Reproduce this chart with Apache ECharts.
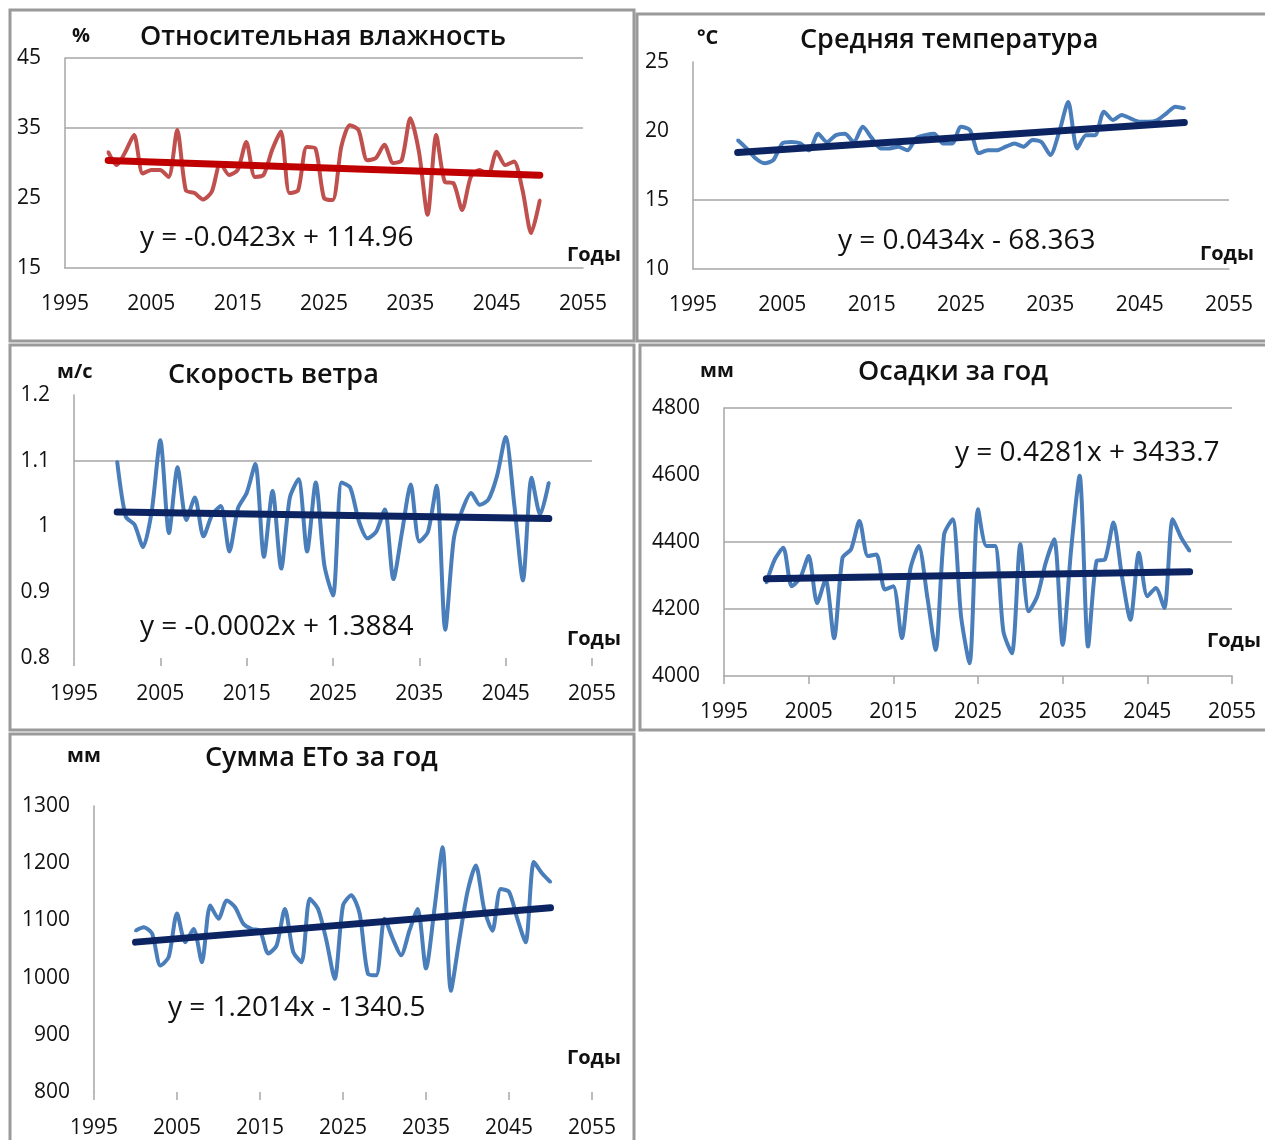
<!DOCTYPE html>
<html><head><meta charset="utf-8">
<script src="https://cdn.jsdelivr.net/npm/echarts@6/dist/echarts.min.js"></script>
<style>html,body{margin:0;padding:0;background:#fff}#c{width:1265px;height:1140px}</style>
</head><body><div id="c"></div>
<script>
// ---------- DATA ----------
const years = [2000,2001,2002,2003,2004,2005,2006,2007,2008,2009,2010,2011,2012,2013,2014,2015,2016,2017,2018,2019,2020,2021,2022,2023,2024,2025,2026,2027,2028,2029,2030,2031,2032,2033,2034,2035,2036,2037,2038,2039,2040,2041,2042,2043,2044,2045,2046,2047,2048,2049,2050];
const xTickLabels = ['1995','2005','2015','2025','2035','2045','2055'];

const humidity = [31.6,29.7,31.6,34.0,28.5,29.0,29.0,28.0,34.7,26.1,25.7,24.8,25.9,30.0,28.3,29.0,33.0,28.0,28.3,31.9,34.5,25.7,26.1,32.3,32.1,25.0,24.7,32.3,35.4,34.7,30.4,30.7,32.6,30.0,30.4,36.4,31.6,22.6,34.0,27.3,27.1,23.3,28.0,29.0,28.3,31.6,29.7,30.2,26.1,20.0,24.7];
const temperature = [19.35,18.74,18.02,17.66,17.9,19.1,19.2,19.1,18.6,19.8,19.2,19.7,19.8,19.2,20.3,19.5,18.74,18.74,18.86,18.6,19.5,19.7,19.8,19.1,19.1,20.3,20.07,18.4,18.6,18.6,18.86,19.1,18.86,19.35,19.2,18.26,19.95,22.1,18.74,19.7,19.7,21.4,20.8,21.16,20.9,20.67,20.67,20.8,21.28,21.76,21.64];
const wind = [1.099,1.015,1.003,0.969,1.023,1.131,0.99,1.09,1.01,1.044,0.985,1.018,1.031,0.962,1.028,1.051,1.095,0.954,1.054,0.936,1.044,1.072,0.962,1.067,0.941,0.895,1.067,1.059,1.008,0.982,0.992,1.026,0.920,0.992,1.064,0.977,0.992,1.062,0.843,0.982,1.026,1.051,1.033,1.041,1.077,1.136,1.033,0.918,1.074,1.018,1.067];
const precip = [4278,4348,4383,4268,4293,4358,4218,4288,4113,4353,4378,4463,4358,4363,4258,4268,4113,4318,4388,4238,4078,4423,4468,4178,4038,4498,4388,4388,4133,4068,4393,4193,4238,4338,4408,4093,4378,4598,4088,4343,4348,4458,4298,4168,4368,4238,4263,4203,4468,4413,4373];
const eto = [1082,1088,1077,1021,1036,1112,1062,1085,1027,1126,1103,1135,1123,1094,1085,1082,1042,1056,1120,1045,1027,1138,1120,1065,998,1126,1144,1112,1007,1004,1103,1068,1039,1082,1120,1016,1118,1228,977,1065,1150,1196,1120,1082,1155,1150,1103,1062,1202,1182,1167];

// trend line values at first and last year
const trendYears = [2000, 2050];
const humTrend = [30.36, 28.25];
const tempTrend = [18.44, 20.61];
const windTrend = [1.022, 1.012];
const precipTrend = [4290, 4311];
const etoTrend = [1062, 1122];

const titles = ['Относительная влажность','Средняя температура','Скорость ветра','Осадки за год','Сумма ЕТо за год'];
const units = ['%','°C','м/с','мм','мм'];
const equations = ['y = -0.0423x + 114.96','y = 0.0434x - 68.363','y = -0.0002x + 1.3884','y = 0.4281x + 3433.7','y = 1.2014x - 1340.5'];
const xName = 'Годы';
const gridValues = [[35,45],[15],[1.1],[4200,4400,4800],[]];

// ---------- LAYOUT ----------
const BASE = 1995;
const FONT = '"Open Sans", "Noto Sans", sans-serif';
const blue = '#4a7ebb', darkBlue = '#0c2461';
const panels = [
  {d:humidity, t:humTrend, color:'#c0504d', tc:'#c00000', grid:{left:65,top:58,width:518,height:210}, y:[15,45,10], xLine:true, ticks:false, dec:0,
   box:[10,10,624,331], unit:[72,36], title:[140,37], eq:[140,238], xn:[567,255]},
  {d:temperature, t:tempTrend, color:blue, tc:darkBlue, grid:{left:693,top:62,width:536,height:207}, y:[10,25,5], xLine:true, ticks:false, dec:0,
   box:[637,14,640,327], unit:[697,38], title:[800,40], eq:[838,241], xn:[1200,254]},
  {d:wind, t:windTrend, color:blue, tc:darkBlue, grid:{left:74,top:395,width:518,height:263}, y:[0.8,1.2,0.1], xLine:false, ticks:true, dec:1,
   box:[10,345,624,385], unit:[57,372], title:[168,375], eq:[140,627], xn:[567,639]},
  {d:precip, t:precipTrend, color:blue, tc:darkBlue, grid:{left:724,top:408,width:508,height:268}, y:[4000,4800,200], xLine:true, ticks:true, dec:0,
   box:[640,345,640,385], unit:[700,371], title:[858,372], eq:[955,453], xn:[1207,641]},
  {d:eto, t:etoTrend, color:blue, tc:darkBlue, grid:{left:94,top:806,width:498,height:286}, y:[800,1300,100], xLine:false, ticks:true, dec:0,
   box:[10,734,624,430], unit:[67,756], title:[205,758], eq:[168,1008], xn:[567,1058]}
];

const grid = [], xAxis = [], yAxis = [], series = [], graphic = [];
const axisGray = '#a6a6a6';
panels.forEach((p, i) => {
  grid.push(Object.assign({containLabel:false}, p.grid));
  xAxis.push({
    type:'value', gridIndex:i, min:0, max:60, interval:10,
    axisLine:{show:p.xLine, lineStyle:{color:axisGray, width:1.5}},
    axisTick:{show:p.ticks, length:8, lineStyle:{color:axisGray, width:1.5}},
    splitLine:{show:false},
    axisLabel:{margin:26, color:'#111', fontSize:21, fontFamily:FONT, formatter:(v)=>xTickLabels[Math.round(v/10)]}
  });
  yAxis.push({
    type:'value', gridIndex:i, min:p.y[0], max:p.y[1], interval:p.y[2],
    axisLine:{show:true, lineStyle:{color:axisGray, width:1.5}},
    axisTick:{show:false}, splitLine:{show:false},
    axisLabel:{margin:24, color:'#111', fontSize:21, fontFamily:FONT,
      formatter:(v)=> p.dec ? String(Math.round(v*10)/10) : String(Math.round(v))}
  });
  series.push({
    type:'line', xAxisIndex:i, yAxisIndex:i, z:3,
    data: p.d.map((v,k)=>[years[k]-BASE, v]),
    smooth:0.25, symbol:'circle', symbolSize:3, showSymbol:true,
    lineStyle:{color:p.color, width:4}, itemStyle:{color:p.color},
    markLine:{silent:true, symbol:['none','none'], z:1, animation:false,
      label:{show:false}, lineStyle:{color:axisGray, width:1.5, type:'solid'},
      data: gridValues[i].map(v=>({yAxis:v}))}
  });
  series.push({
    type:'line', xAxisIndex:i, yAxisIndex:i, z:4,
    data: trendYears.map((yv,k)=>[yv-BASE, p.t[k]]),
    symbol:'none', lineStyle:{color:p.tc, width:7, cap:'round'}
  });
  graphic.push({type:'rect', shape:{x:p.box[0], y:p.box[1], width:p.box[2], height:p.box[3]},
    style:{fill:'none', stroke:'#9a9a9a', lineWidth:3}, z:10});
  graphic.push({type:'text', x:p.unit[0], y:p.unit[1], z:10,
    style:{text:units[i], font:'bold 20px '+FONT, fill:'#111', textVerticalAlign:'middle'}});
  graphic.push({type:'text', x:p.title[0], y:p.title[1], z:10,
    style:{text:titles[i], font:'600 27px '+FONT, fill:'#111', textVerticalAlign:'middle'}});
  graphic.push({type:'text', x:p.eq[0], y:p.eq[1], z:10,
    style:{text:equations[i], font:'28px '+FONT, fill:'#111', textVerticalAlign:'middle'}});
  graphic.push({type:'text', x:p.xn[0], y:p.xn[1], z:10,
    style:{text:xName, font:'bold 20px '+FONT, fill:'#111', textVerticalAlign:'middle'}});
});

const chart = echarts.init(document.getElementById('c'), null, {renderer:'canvas'});
chart.setOption({backgroundColor:'#fff', animation:false, grid, xAxis, yAxis, series, graphic});
</script></body></html>
